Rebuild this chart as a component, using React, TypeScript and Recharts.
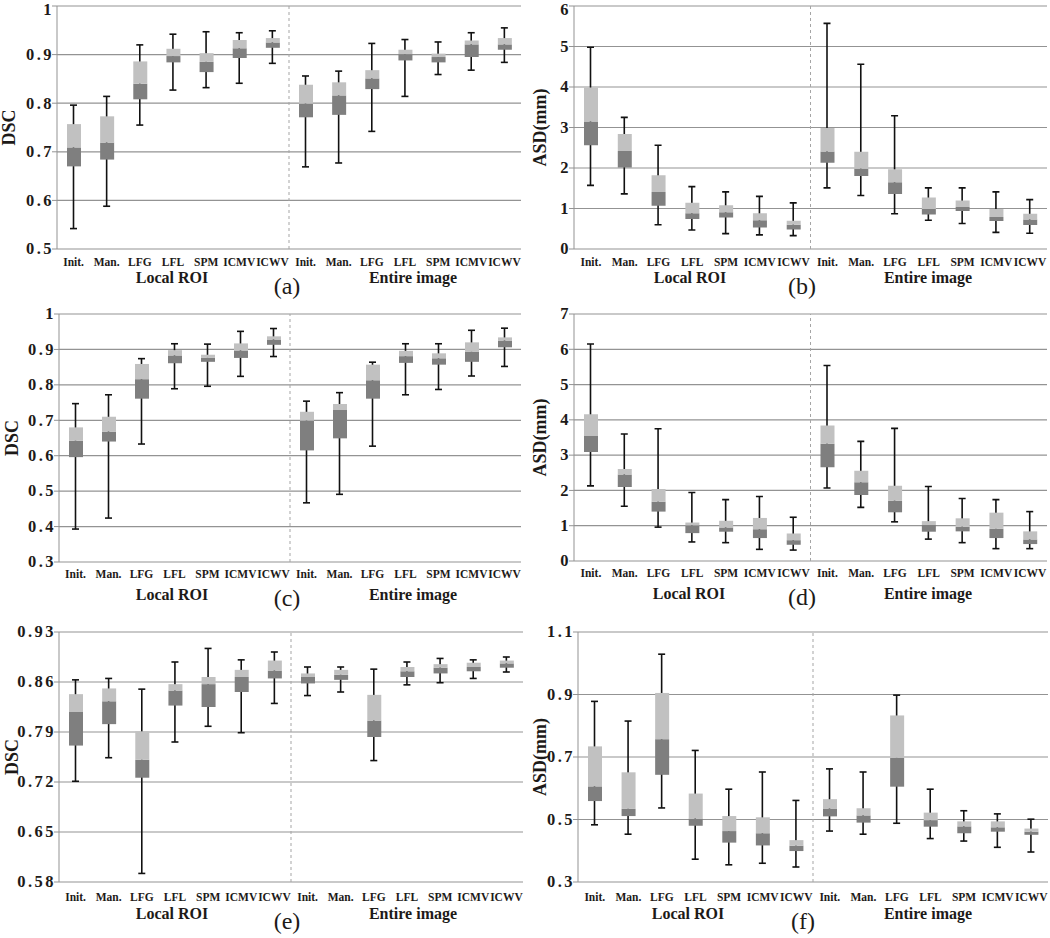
import React from "react";
import { ComposedChart, Bar, XAxis, YAxis, CartesianGrid, ReferenceLine } from "recharts";

/* ── Data ─────────────────────────────── */
const GROUP_CATS = ["Init.", "Man.", "LFG", "LFL", "SPM", "ICMV", "ICWV"];
const CATEGORIES = [...GROUP_CATS, ...GROUP_CATS];
const GROUP_NAMES = ["Local ROI", "Entire image"];

// each row: [min, q1, median, q3, max]; 7 local ROI rows then 7 entire image rows
const DSC_A = [
  [0.542, 0.67, 0.709, 0.757, 0.796],
  [0.588, 0.684, 0.719, 0.773, 0.814],
  [0.755, 0.808, 0.84, 0.886, 0.92],
  [0.827, 0.884, 0.897, 0.912, 0.942],
  [0.832, 0.864, 0.885, 0.903, 0.947],
  [0.841, 0.893, 0.913, 0.93, 0.945],
  [0.882, 0.914, 0.925, 0.934, 0.949],
  [0.669, 0.771, 0.799, 0.838, 0.856],
  [0.677, 0.776, 0.816, 0.843, 0.866],
  [0.742, 0.829, 0.851, 0.868, 0.923],
  [0.814, 0.888, 0.901, 0.91, 0.931],
  [0.859, 0.884, 0.895, 0.902, 0.926],
  [0.868, 0.895, 0.921, 0.929, 0.945],
  [0.884, 0.91, 0.921, 0.934, 0.955],
];

const ASD_B = [
  [1.57, 2.56, 3.15, 3.99, 4.98],
  [1.36, 2.01, 2.42, 2.84, 3.25],
  [0.6, 1.07, 1.41, 1.82, 2.56],
  [0.47, 0.74, 0.88, 1.14, 1.54],
  [0.38, 0.78, 0.91, 1.08, 1.41],
  [0.35, 0.53, 0.71, 0.88, 1.3],
  [0.33, 0.48, 0.6, 0.7, 1.14],
  [1.51, 2.13, 2.41, 2.99, 5.57],
  [1.32, 1.8, 1.98, 2.4, 4.56],
  [0.87, 1.36, 1.65, 1.97, 3.29],
  [0.71, 0.85, 0.99, 1.27, 1.51],
  [0.63, 0.94, 1.04, 1.2, 1.51],
  [0.41, 0.69, 0.79, 0.99, 1.41],
  [0.39, 0.59, 0.73, 0.87, 1.22],
];

const DSC_C = [
  [0.393, 0.596, 0.642, 0.68, 0.747],
  [0.424, 0.64, 0.668, 0.71, 0.772],
  [0.633, 0.761, 0.816, 0.859, 0.874],
  [0.789, 0.861, 0.883, 0.898, 0.916],
  [0.796, 0.865, 0.876, 0.885, 0.915],
  [0.824, 0.876, 0.897, 0.917, 0.951],
  [0.88, 0.913, 0.928, 0.937, 0.959],
  [0.467, 0.615, 0.699, 0.724, 0.754],
  [0.491, 0.649, 0.729, 0.746, 0.778],
  [0.627, 0.761, 0.813, 0.857, 0.864],
  [0.772, 0.862, 0.881, 0.896, 0.916],
  [0.787, 0.857, 0.875, 0.889, 0.916],
  [0.825, 0.865, 0.893, 0.92, 0.954],
  [0.852, 0.906, 0.925, 0.934, 0.96],
];

const ASD_D = [
  [2.13, 3.09, 3.54, 4.16, 6.15],
  [1.55, 2.1, 2.45, 2.61, 3.6],
  [0.96, 1.4, 1.68, 2.04, 3.75],
  [0.54, 0.79, 1.01, 1.09, 1.94],
  [0.52, 0.83, 0.95, 1.14, 1.74],
  [0.33, 0.65, 0.9, 1.22, 1.83],
  [0.31, 0.46, 0.59, 0.78, 1.24],
  [2.07, 2.66, 3.32, 3.84, 5.54],
  [1.52, 1.87, 2.23, 2.56, 3.39],
  [1.11, 1.38, 1.71, 2.13, 3.76],
  [0.62, 0.83, 1.02, 1.13, 2.11],
  [0.52, 0.84, 0.97, 1.21, 1.77],
  [0.35, 0.65, 0.91, 1.37, 1.74],
  [0.35, 0.48, 0.61, 0.84, 1.4],
];

const DSC_E = [
  [0.721, 0.771, 0.818, 0.843, 0.863],
  [0.754, 0.801, 0.833, 0.851, 0.865],
  [0.592, 0.726, 0.751, 0.791, 0.85],
  [0.776, 0.827, 0.848, 0.857, 0.888],
  [0.798, 0.825, 0.857, 0.867, 0.907],
  [0.789, 0.846, 0.867, 0.877, 0.891],
  [0.83, 0.865, 0.876, 0.89, 0.902],
  [0.841, 0.858, 0.867, 0.872, 0.881],
  [0.846, 0.863, 0.87, 0.877, 0.881],
  [0.75, 0.783, 0.806, 0.842, 0.878],
  [0.856, 0.867, 0.875, 0.881, 0.888],
  [0.859, 0.872, 0.88, 0.885, 0.893],
  [0.865, 0.875, 0.881, 0.887, 0.891],
  [0.874, 0.88, 0.886, 0.89, 0.895],
];

const ASD_F = [
  [0.483, 0.559, 0.606, 0.734, 0.878],
  [0.453, 0.511, 0.534, 0.651, 0.815],
  [0.537, 0.643, 0.757, 0.905, 1.029],
  [0.373, 0.48, 0.503, 0.583, 0.721],
  [0.355, 0.426, 0.463, 0.511, 0.597],
  [0.36, 0.417, 0.456, 0.507, 0.652],
  [0.348, 0.399, 0.416, 0.434, 0.561],
  [0.463, 0.51, 0.535, 0.565, 0.662],
  [0.453, 0.49, 0.513, 0.536, 0.652],
  [0.488, 0.605, 0.697, 0.833, 0.898],
  [0.439, 0.477, 0.498, 0.522, 0.597],
  [0.431, 0.456, 0.478, 0.494, 0.528],
  [0.411, 0.461, 0.475, 0.494, 0.518],
  [0.396, 0.451, 0.461, 0.471, 0.501],
];

const TICKS_A = [0.5, 0.6, 0.7, 0.8, 0.9, 1];
const TICKS_B = [0, 1, 2, 3, 4, 5, 6];
const TICKS_C = [0.3, 0.4, 0.5, 0.6, 0.7, 0.8, 0.9, 1];
const TICKS_D = [0, 1, 2, 3, 4, 5, 6, 7];
const TICKS_E = [0.58, 0.65, 0.72, 0.79, 0.86, 0.93];
const TICKS_F = [0.3, 0.5, 0.7, 0.9, 1.1];

/* ── Style / layout ─────────────────────────────── */
const FONT = "Liberation Serif, Times New Roman, serif";
const GRID = "#939393";
const DARK = "#7f7f7f";
const LIGHT = "#c1c1c1";
const INK = "#1d1a18";
const EDGE_TICKS = [0, 1, 2, 3, 4, 5, 6, 7, 8, 9, 10, 11, 12, 13, 14];
const PAD_TOP = 14;

// plot = [left, top, right, bottom] in page pixels
const PANELS = [
  { id: "a", rows: DSC_A, ticks: TICKS_A, title: "DSC", plot: [57, 6, 521, 249], titleX: 9, groups: [172, 413], letter: [287, 294], catDy: 17, groupDy: 34 },
  { id: "b", rows: ASD_B, ticks: TICKS_B, title: "ASD(mm)", plot: [574, 6, 1047, 249], titleX: 540, groups: [690, 928], letter: [802, 294], catDy: 17, groupDy: 34 },
  { id: "c", rows: DSC_C, ticks: TICKS_C, title: "DSC", plot: [59, 314, 521, 562], titleX: 12, groups: [172, 413], letter: [287, 606], catDy: 16, groupDy: 38 },
  { id: "d", rows: ASD_D, ticks: TICKS_D, title: "ASD(mm)", plot: [574, 314, 1047, 561], titleX: 540, groups: [689, 928], letter: [802, 605], catDy: 16, groupDy: 38 },
  { id: "e", rows: DSC_E, ticks: TICKS_E, title: "DSC", plot: [59, 632, 523, 882], titleX: 12, groups: [172, 413], letter: [287, 929], catDy: 19, groupDy: 37 },
  { id: "f", rows: ASD_F, ticks: TICKS_F, title: "ASD(mm)", plot: [578, 632, 1048, 882], titleX: 540, groups: [688, 928], letter: [803, 929], catDy: 19, groupDy: 37 },
];

function Whisker(props: any) {
  const { x, y, width, height } = props;
  const top = Math.min(y, y + height);
  const bottom = Math.max(y, y + height);
  const cx = x + width / 2;
  return (
    <g stroke="#111" strokeWidth={1.6}>
      <line x1={cx} y1={top} x2={cx} y2={bottom} />
      <line x1={x} y1={top} x2={x + width} y2={top} />
      <line x1={x} y1={bottom} x2={x + width} y2={bottom} />
    </g>
  );
}

function CatTick(props: any) {
  const { x, y, payload, dy } = props;
  const idx = Number(String(payload.value).slice(1));
  return (
    <text
      x={x}
      y={y + dy}
      textAnchor="middle"
      style={{ fontFamily: FONT, fontSize: 11.5, fontWeight: 700 }}
      fill={INK}
    >
      {CATEGORIES[idx]}
    </text>
  );
}

function ValueTick(props: any) {
  const { x, y, payload, topNudge } = props;
  // keep the topmost label of the first row inside the page
  const nudge = y <= PAD_TOP + 1 ? topNudge : 0;
  return (
    <text
      x={x + 3}
      y={y + nudge}
      dy={5.3}
      textAnchor="end"
      style={{ fontFamily: FONT, fontSize: 16.5, fontWeight: 700, letterSpacing: 2.5 }}
      fill={INK}
    >
      {String(payload.value)}
    </text>
  );
}

function BoxPanel({ p }: { p: (typeof PANELS)[number] }) {
  const [l, t, r, b] = p.plot;
  const yw = 52;
  const left = l - yw;
  const top = t - PAD_TOP;
  const width = r - left + 3;
  const height = b - top + 30;
  const data = CATEGORIES.map((c, i) => {
    const [min, q1, med, q3, max] = p.rows[i];
    return { key: `${i < 7 ? "L" : "E"}${i}`, label: c, min, q1, med, q3, max };
  });
  const domain = [p.ticks[0], p.ticks[p.ticks.length - 1]];

  return (
    <div style={{ position: "absolute", left, top }}>
      <ComposedChart width={width} height={height} data={data} margin={{ top: PAD_TOP, right: 3, bottom: 0, left: 0 }}>
        <XAxis
          xAxisId="edge"
          type="number"
          domain={[0, 14]}
          ticks={EDGE_TICKS}
          allowDataOverflow
          interval={0}
          height={0}
          stroke={GRID}
          tickSize={6}
          tickFormatter={() => ""}
        />
        <XAxis
          xAxisId="cat"
          dataKey="key"
          height={30}
          axisLine={false}
          tickLine={false}
          tickSize={0}
          tickMargin={0}
          interval={0}
          tick={<CatTick dy={p.catDy} />}
        />
        <XAxis xAxisId="w" dataKey="key" hide />
        <XAxis xAxisId="lo" dataKey="key" hide />
        <XAxis xAxisId="hi" dataKey="key" hide />
        <YAxis
          width={yw}
          type="number"
          domain={domain}
          ticks={p.ticks}
          interval={0}
          allowDataOverflow
          stroke={GRID}
          tickSize={5}
          tickMargin={1}
          tick={<ValueTick topNudge={t < 20 ? 4 : 0} />}
        />
        <CartesianGrid xAxisId="cat" vertical={false} stroke={GRID} strokeWidth={1.2} />
        <ReferenceLine xAxisId="cat" x="E7" position="start" stroke="#a5a5a5" strokeDasharray="3 3" />
        <Bar xAxisId="w" dataKey={(d: any) => [d.min, d.max]} barSize={7} shape={Whisker} isAnimationActive={false} />
        <Bar xAxisId="lo" dataKey={(d: any) => [d.q1, d.med]} barSize={14} fill={DARK} isAnimationActive={false} />
        <Bar xAxisId="hi" dataKey={(d: any) => [d.med, d.q3]} barSize={14} fill={LIGHT} isAnimationActive={false} />
      </ComposedChart>
    </div>
  );
}

export default function App() {
  return (
    <div style={{ position: "absolute", left: 0, top: 0, width: 1050, height: 938, background: "#fff", fontFamily: FONT }}>
      {PANELS.map((p) => (
        <BoxPanel key={p.id} p={p} />
      ))}
      <svg width={1050} height={938} style={{ position: "absolute", left: 0, top: 0, pointerEvents: "none" }}>
        {PANELS.map((p) => {
          const [, t, , b] = p.plot;
          const cy = (t + b) / 2;
          return (
            <g key={p.id} fill={INK} style={{ fontFamily: FONT }}>
              <text
                x={p.titleX}
                y={cy}
                transform={`rotate(-90 ${p.titleX} ${cy})`}
                textAnchor="middle"
                dominantBaseline="central"
                style={{ fontFamily: FONT, fontSize: 18, fontWeight: 700 }}
              >
                {p.title}
              </text>
              {GROUP_NAMES.map((g, i) => (
                <text
                  key={g}
                  x={p.groups[i]}
                  y={b + p.groupDy}
                  textAnchor="middle"
                  style={{ fontFamily: FONT, fontSize: 16, fontWeight: 700 }}
                >
                  {g}
                </text>
              ))}
              <text x={p.letter[0]} y={p.letter[1]} textAnchor="middle" style={{ fontFamily: FONT, fontSize: 24 }}>
                ({p.id})
              </text>
            </g>
          );
        })}
      </svg>
    </div>
  );
}
